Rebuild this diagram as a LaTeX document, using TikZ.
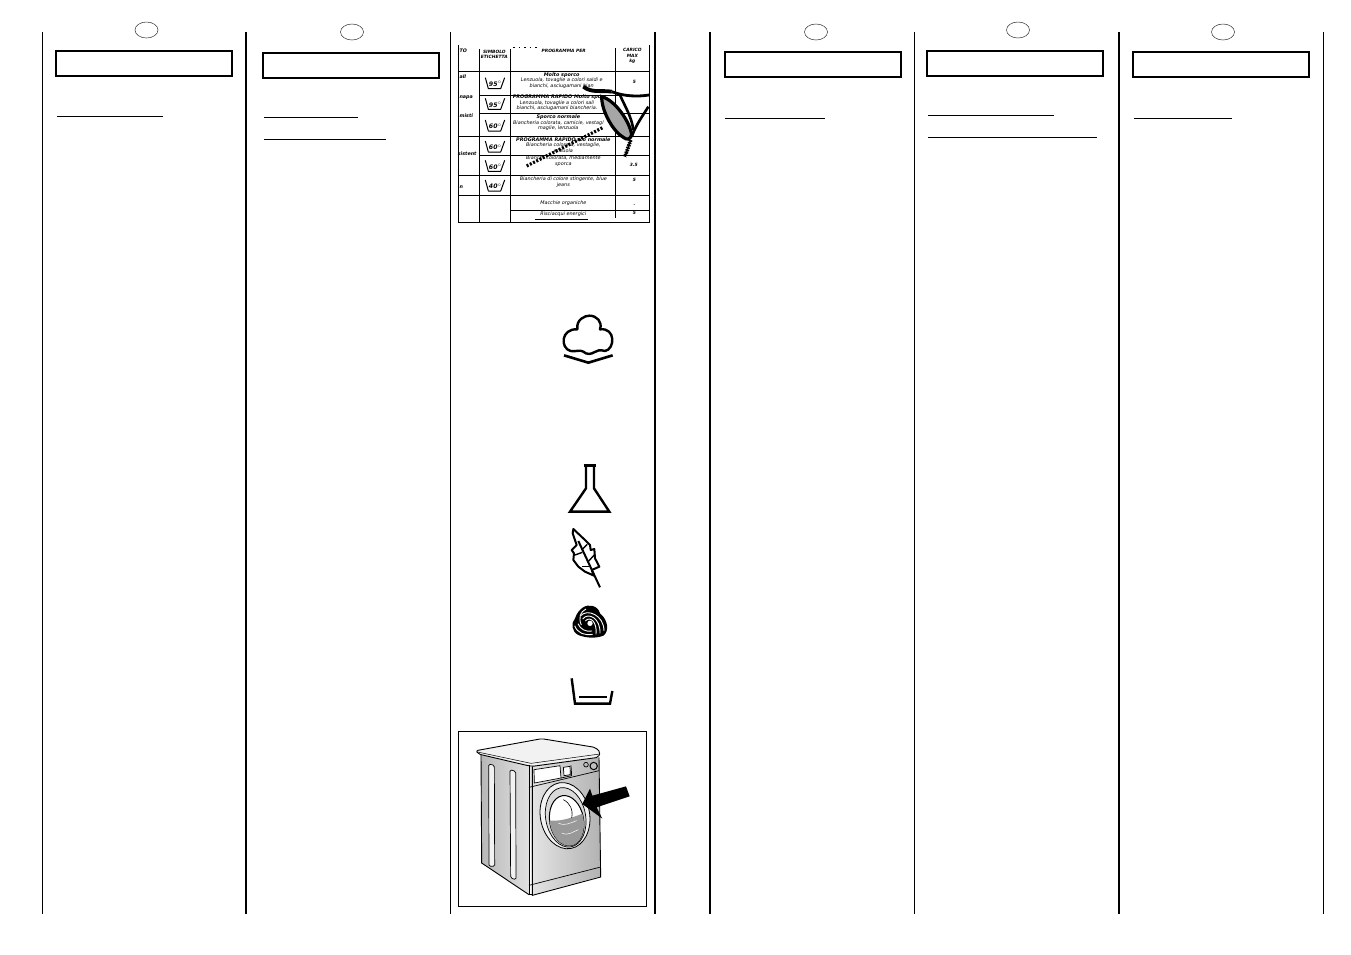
\documentclass[tikz,border=0pt]{standalone}
\usepackage{fontspec}
\setmainfont{DejaVu Sans}
\usetikzlibrary{shapes.geometric}
\tikzset{
  headbox/.style={draw, line width=1.5pt, minimum width=176pt, minimum height=25pt, inner sep=0pt},
  langoval/.style={draw, ellipse, line width=0.5pt, draw=black!80, minimum width=23pt, minimum height=16pt, inner sep=0pt},
  thinrule/.style={line width=0.7pt},
  thickrule/.style={line width=1.6pt},
  under/.style={line width=0.8pt},
  cell/.style={font=\fontsize{4.9}{5.6}\selectfont\itshape, align=center, inner sep=0pt},
  cellb/.style={font=\fontsize{4.4}{5.2}\selectfont\itshape\bfseries, align=center, inner sep=0pt},
  stub/.style={font=\fontsize{4.8}{5.6}\selectfont\itshape\bfseries, anchor=west, inner sep=0pt},
  tubtemp/.style={font=\fontsize{6.2}{6.2}\selectfont\itshape\bfseries, inner sep=0pt},
  icon/.style={line width=2.4pt, line join=miter},
  tubline/.style={line width=1pt, line join=round},
}
\begin{document}
\begin{tikzpicture}[x=1pt,y=-1pt]
\path[use as bounding box, fill=white] (0,0) rectangle (1351,954);
% column rules
\draw[thinrule] (42,32) -- (42,914);
\draw[thickrule] (246,32) -- (246,914);
\draw[thinrule] (450,32) -- (450,914);
\draw[thickrule] (655,32) -- (655,914);
\draw[thickrule] (710,32) -- (710,914);
\draw[thinrule] (914,32) -- (914,914);
\draw[thickrule] (1119,32) -- (1119,914);
\draw[thinrule] (1323,32) -- (1323,914);
% language marks
\node[langoval] (oval1) at (146.5,30){};
\node[langoval] (oval2) at (352,32){};
\node[langoval] (oval3) at (816,32){};
\node[langoval] (oval4) at (1018,30){};
\node[langoval] (oval5) at (1223,32){};
% heading boxes
\node[headbox] (box1) at (144,63.5){};
\node[headbox] (box2) at (351,65.5){};
\node[headbox] (box3) at (813,64.5){};
\node[headbox] (box4) at (1015,63.5){};
\node[headbox] (box5) at (1221,64.5){};
% underlines
\draw[under] (57,116) -- (163,116);
\draw[under] (264,117) -- (358,117);
\draw[under] (264,139) -- (386,139);
\draw[under] (725,118) -- (825,118);
\draw[under] (928,115) -- (1054,115);
\draw[under] (928,137) -- (1097,137);
\draw[under] (1134,118) -- (1232,118);
% table
\begin{scope}[shift={(455,40)},scale=1/3]
\draw[line width=1pt] (10,15) -- (10,547) -- (582,547) -- (582,15);
\draw[line width=1.6pt] (73,28) -- (73,547);
\draw[line width=0.7pt] (165,28) -- (165,547);
\draw[line width=0.7pt] (480,25) -- (480,535);
\draw[line width=1.2pt] (10,95) -- (582,95);
\draw[line width=0.8pt] (73,165) -- (582,165);
\draw[line width=0.8pt] (73,219) -- (582,219);
\draw[line width=0.8pt] (10,290) -- (582,290);
\draw[line width=0.8pt] (73,345) -- (582,345);
\draw[line width=0.8pt] (10,405) -- (582,405);
\draw[line width=0.8pt] (10,465) -- (582,465);
\draw[line width=0.8pt] (165,510) -- (582,510);
\draw[line width=0.5pt] (240,537) -- (400,537);
\draw[line width=1pt, dash pattern=on 1.5pt off 4pt] (175,22) -- (245,22);
\node[stub] (hto) at (13,33){TO};
\node[cellb] (hsym) at (118,42){SIMBOLO\\ETICHETTA};
\node[cellb] (hprog) at (326,32){PROGRAMMA PER};
\node[cellb] (hmax) at (532,48){CARICO\\MAX\\kg};
\node[stub] (sall) at (13,110){all};
\node[stub] (snapa) at (13,173){napa};
\node[stub] (smisti) at (13,228){misti};
\node[stub] (ssist) at (8,342){sistent};
\node[stub] (sin) at (13,440){n};
\node[cell] (row1) at (320,121){\textbf{Molto sporco}\\Lenzuola, tovaglie a colori saldi e\\bianchi, asciugamani bian};
\node[cell] (row2) at (306,188){\textbf{PROGRAMMA RAPIDO Molto spo}\\Lenzuola, tovaglie a colori sali\\bianchi, asciugamani biancheria.};
\node[cell] (row3) at (310,248){\textbf{Sporco normale}\\Biancheria colorata, camicie, vestagl\\maglie, lenzuola};
\node[cell] (row4) at (325,315){\textbf{PROGRAMMA RAPIDO} \textbf{rco normale}\\Biancheria colorata, vestaglie,\\enzuola};
\node[cell] (row5) at (325,363){Bianch. colorata, mediamente\\sporca};
\node[cell] (row6) at (325,427){Biancheria di colore stingente, blue\\jeans};
\node[cell] (row7) at (325,490){Macchie organiche};
\node[cell] (row8) at (325,521){Risciacqui energici};
\node[cellb] (max1) at (538,126){5};
\node[cellb] (max5) at (536,376){3.5};
\node[cellb] (max6) at (538,420){5};
\node[cellb] (max7) at (538,495){.};
\node[cellb] (max8) at (538,519){5};
\foreach \yy/\deg in {113/95, 175/95, 240/60, 303/60, 361/60, 420/40}{
  \draw[tubline] (91,\yy) -- (100,\yy+33) -- (137,\yy+33) -- (149,\yy);
  \node[tubtemp] at (121,\yy+19){\deg$^{\circ}$};
}
% laundry mark laid over the table
\draw[line width=3.8pt] (385,140) .. controls (410,160) and (440,150) .. (470,155);
\draw[line width=2.8pt] (470,155) .. controls (510,170) and (550,170) .. (582,165);
\draw[fill=black!35, line width=3.2pt] (440,170) .. controls (480,180) and (525,245) .. (530,285) .. controls (525,300) and (515,300) .. (505,292) .. controls (475,275) and (440,215) .. (440,170) -- cycle;
\draw[line width=2.6pt] (495,165) .. controls (510,200) and (530,230) .. (535,270);
\draw[line width=2.6pt] (530,290) .. controls (545,250) and (565,225) .. (580,200);
\draw[line width=3.8pt, dash pattern=on 1.5pt off 1pt] (527,300) -- (510,350);
\draw[line width=1.6pt] (527,300) -- (510,350);
\draw[line width=3.2pt, dash pattern=on 2pt off 1.6pt] (215,378) -- (445,262);
\end{scope}
% steam
\begin{scope}[shift={(550,300)},scale=1/3]
\draw[icon, line cap=round, line join=round] (62,153) .. controls (30,145) and (32,85) .. (82,88) .. controls (78,58) and (105,47) .. (118,47) .. controls (140,47) and (158,65) .. (150,88) .. controls (198,82) and (195,148) .. (165,153) .. controls (150,148) and (140,152) .. (132,157) .. controls (125,162) and (110,165) .. (100,155) .. controls (90,148) and (75,156) .. (62,153) -- cycle;
\draw[line width=2.6pt] (42,166) -- (115,188) -- (188,166);
\end{scope}
% flask and feather
\begin{scope}[shift={(550,455)},scale=1/3]
\draw[line width=2.5pt] (101,32) -- (139,32);
\draw[icon] (108,32) -- (108,100) -- (60,170) -- (178,170) -- (132,100) -- (132,32);
\draw[line width=2pt, line join=round] (70,222) -- (105,255) -- (120,270) -- (122,285) -- (133,282) -- (135,310) -- (148,335) -- (125,345) -- (132,362) -- (105,350) -- (85,335) -- (70,315) -- (72,295) -- (65,285) -- (80,270) -- (68,235) -- cycle;
\draw[line width=2pt] (85,258) -- (150,397);
\draw[line width=1.4pt] (95,285) -- (112,268);
\draw[line width=1.4pt] (112,322) -- (133,300);
\draw[line width=1.4pt] (97,292) -- (75,300);
\draw[line width=1.4pt] (118,335) -- (95,335);
\end{scope}
% wool and basin
\begin{scope}[shift={(550,595)},scale=1/3]
\fill (98,38) .. controls (115,25) and (145,32) .. (150,55) .. controls (175,75) and (178,110) .. (160,122) .. controls (135,132) and (105,128) .. (85,120) .. controls (65,110) and (62,85) .. (75,70) .. controls (80,55) and (88,45) .. (98,38) -- cycle;
\draw[white, line width=0.9pt] (92,62) .. controls (112,40) and (162,60) .. (162,108);
\draw[white, line width=0.9pt] (98,72) .. controls (115,50) and (152,70) .. (150,115);
\draw[white, line width=0.9pt] (106,78) .. controls (120,62) and (142,80) .. (138,118);
\draw[white, line width=0.9pt] (74,92) .. controls (82,115) and (105,122) .. (128,118);
\draw[white, line width=0.9pt] (84,86) .. controls (90,102) and (108,112) .. (126,108);
\draw[white, line width=0.9pt] (108,42) .. controls (90,50) and (85,70) .. (94,90);
\fill[white] (120,85) circle[radius=8];
\draw[icon] (65,250) -- (75,326) -- (180,326) -- (187,288);
\draw[icon] (88,306) -- (170,306);
\end{scope}
% washing machine
\begin{scope}[shift={(455,728)},scale=1/3]
\draw[line width=1pt] (11,10) rectangle (574,536);
\path[left color=black!28, right color=black!12] (78,78) -- (222,112) -- (222,500) -- (80,405) -- cycle;
\draw[line width=0.9pt] (78,78) -- (80,405) -- (222,500);
\path[left color=black!10, right color=black!30] (222,115) -- (432,88) -- (437,445) -- (232,500) -- cycle;
\draw[line width=0.9pt, fill=black!5, rounded corners=2pt] (63,68) -- (260,32) -- (420,58) -- (436,72) -- (430,88) -- (232,115) -- (215,112) -- (70,78) -- cycle;
\draw[line width=0.5pt] (68,72) -- (228,106) -- (434,78);
\draw[line width=0.9pt] (222,112) -- (222,500) -- (232,500);
\draw[line width=0.9pt] (232,115) -- (232,502) -- (437,447) -- (432,88);
\draw[line width=0.7pt] (222,472) -- (437,417);
\draw[line width=0.7pt, fill=black!5, rounded corners=1.5pt] (101,108) -- (118,112) -- (119,415) -- (102,415) -- cycle;
\draw[line width=0.7pt, fill=black!5, rounded corners=1.5pt] (165,125) -- (182,130) -- (183,455) -- (167,450) -- cycle;
\draw[line width=0.7pt] (222,178) -- (432,128);
\draw[line width=0.7pt, fill=white] (237,125) -- (315,113) -- (318,150) -- (238,165) -- cycle;
\draw[line width=0.7pt] (318,150) -- (350,143) -- (348,112);
\draw[line width=0.7pt, fill=white] (325,118) -- (345,115) -- (346,140) -- (327,143) -- cycle;
\draw[line width=0.7pt] (393,110) circle[radius=7];
\draw[line width=1pt, fill=black!25] (416,114) circle[radius=11];
\draw[line width=0.8pt, fill=black!5, rotate around={10:(330,263)}] (330,263) ellipse[x radius=74, y radius=100];
\draw[line width=0.7pt, fill=black!15, rotate around={10:(332,268)}] (332,268) ellipse[x radius=60, y radius=90];
\draw[line width=1pt, fill=white, rotate around={10:(335,278)}] (335,278) ellipse[x radius=51, y radius=76];
\begin{scope}
\clip[rotate around={10:(335,278)}] (335,278) ellipse[x radius=51, y radius=76];
\fill[black!40] (270,275) .. controls (310,285) and (350,270) .. (400,250) -- (400,370) -- (270,370) -- cycle;
\draw[white, line width=0.5pt] (310,285) .. controls (330,295) and (345,285) .. (365,278);
\draw[white, line width=0.5pt] (320,315) .. controls (340,325) and (355,310) .. (370,305);
\draw[line width=0.6pt] (325,215) .. controls (345,225) and (355,245) .. (350,270);
\end{scope}
\fill (382,228) -- (405,182) -- (412,203) -- (513,175) -- (524,205) -- (425,238) -- (442,272) -- cycle;
\end{scope}
\end{tikzpicture}
\end{document}
